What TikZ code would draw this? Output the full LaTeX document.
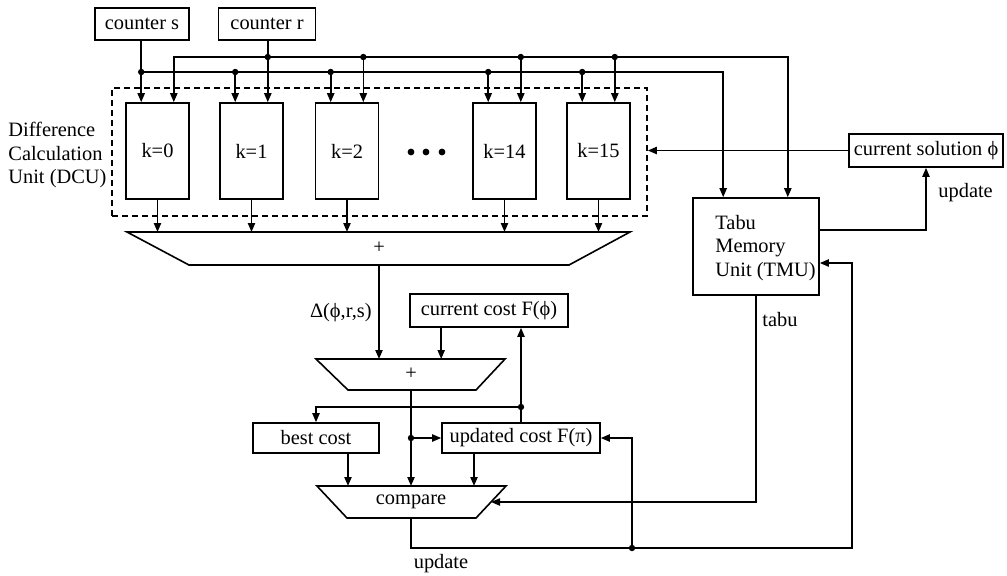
\documentclass[tikz,border=0pt]{standalone}
\usepackage{fontspec}
\setmainfont{Liberation Serif}
\usetikzlibrary{arrows.meta,positioning,calc}

\tikzset{
  wire/.style={line width=0.8pt},
  arr/.style={wire, -{Triangle[length=4.5pt,width=3.6pt]}},
  arrs/.style={wire, {Triangle[length=4.5pt,width=3.6pt]}-{Triangle[length=4.5pt,width=3.6pt]}},
  blk/.style={draw, line width=0.8pt, inner sep=0pt},
  unit/.style={blk, minimum width=31.5pt, minimum height=48pt},
  lbl/.style={inner sep=1pt},
}

\begin{document}
\begin{tikzpicture}[x=0.5pt, y=-0.5pt, font=\fontsize{10.2}{11.8}\selectfont]
\useasboundingbox (0,0) rectangle (1007,575);

% bus levels
\coordinate (rbus) at (0,57);
\coordinate (sbus) at (0,72);

\node[blk, minimum width=47pt, minimum height=16pt] (cs) at (142,24) {counter s};
\node[blk, minimum width=48.5pt, minimum height=16pt] (cr) at (267,24) {counter r};

% difference calculation unit
\node[draw, line width=0.8pt, dash pattern=on 3pt off 2pt, minimum width=267.5pt, minimum height=64pt] (dcu) at (379.5,152) {};
\node[align=left, anchor=west, inner sep=0pt] (dculbl) at (8,155) {Difference\\Calculation\\Unit (DCU)};
\foreach \k/\x in {0/157.5,1/251.5,2/347,14/504.5,15/598.5}{
  \node[unit] (k\k) at (\x,151) {k=\k};
  \coordinate (s\k) at ($(k\k.north west)+(16,0)$);
  \coordinate (r\k) at ($(k\k.north east)+(-16,0)$);
}
\foreach \x in {411,426,442} \fill (\x,152) circle (1.7pt);

% tabu memory unit
\node[blk, minimum width=63pt, minimum height=48.5pt] (tmu) at (756,246.5) {};
\node[align=left, anchor=west, inner sep=0pt] (tmutxt) at (715,248) {Tabu\\Memory\\Unit (TMU)};
\coordinate (ts) at ($(tmu.north west)+(31,0)$);
\coordinate (tr) at ($(tmu.north east)+(-32,0)$);

\node[blk, minimum width=77pt, minimum height=16.5pt] (csol) at (926,150.5) {current solution ϕ};

% counter busses
\draw[arr] (s0 |- cs.south) -- (s0);
\draw[arr] (s0 |- sbus) -| (ts);
\draw[arrs] (r0) |- (tr |- rbus) -- (tr);
\draw[arr] (r1 |- cr.south) -- (r1);
\foreach \k in {1,2,14,15} \draw[arr] (s\k |- sbus) -- (s\k);
\foreach \k in {2,14,15} \draw[arr] (r\k |- rbus) -- (r\k);
\foreach \k in {0,1,2,14,15} \fill (s\k |- sbus) circle (1.6pt);
\foreach \k in {1,2,14,15} \fill (r\k |- rbus) circle (1.6pt);

\draw[arr] (csol.west) -- (csol.west -| dcu.east);

% adder
\draw[wire] (127,232) -- (630,232) -- (569,265) -- (189,265) -- cycle;
\node (add1) at (379,248) {+};
\foreach \k in {0,1,2,14,15} \draw[arr] (k\k.south) -- (k\k.south |- 0,232);

\draw[arr] (add1 |- 0,265) -- (add1 |- 0,359);
\node[lbl, anchor=east] (dlt) at (374,313) {Δ(ϕ,r,s)};
\node[blk, minimum width=79pt, minimum height=16.5pt] (cc) at (489,310.5) {current cost F(ϕ)};
\coordinate (cco) at ($(cc.south west)+(32,0)$);
\draw[arr] (cco) -- (cco |- 0,359);

\draw[wire] (316,359) -- (505,359) -- (476,390) -- (348,390) -- cycle;
\node (add2) at (411,374) {+};

\node[blk, minimum width=63pt, minimum height=15pt] (bc) at (316,438) {best cost};
\node[blk, minimum width=79pt, minimum height=15pt] (uc) at (521,438) {updated cost F(π)};

\coordinate (fb) at (uc.north |- 0,407);
\draw[arr] (uc.north) -- (uc.north |- cc.south);
\draw[arr] (fb) -| (bc.north);
\fill (fb) circle (1.6pt);
\draw[arr] (add2 |- 0,390) -- (add2 |- 0,486);
\draw[arr] (add2 |- uc.west) -- (uc.west);
\fill (add2 |- uc.west) circle (1.6pt);

% compare
\draw[wire] (317,486) -- (506,486) -- (476,518) -- (347,518) -- cycle;
\node (cmp) at (411,502) {compare};
\coordinate (bco) at ($(bc.south)+(32,0)$);
\coordinate (uco) at ($(uc.south)+(-47,0)$);
\draw[arr] (bco) -- (bco |- 0,486);
\draw[arr] (uco) -- (uco |- 0,486);
\draw[arr] (tmu.south) |- (491,502);
\node[lbl, anchor=west] (tabu) at (760,320) {tabu};

% update loop
\coordinate (lp) at (852,548);
\coordinate (fk) at (632,548);
\draw[arr] (cmp |- 0,518) |- (lp) |- ($(tmu.east)+(0,16.5)$);
\draw[arr] (fk) |- (uc.east);
\fill (fk) circle (1.6pt);
\node[lbl] (upd1) at (441,564) {update};
\draw[arr] ($(tmu.east)+(0,-16.5)$) -| (csol.south);
\node[lbl, anchor=west] (upd2) at (936,193) {update};
\end{tikzpicture}
\end{document}
